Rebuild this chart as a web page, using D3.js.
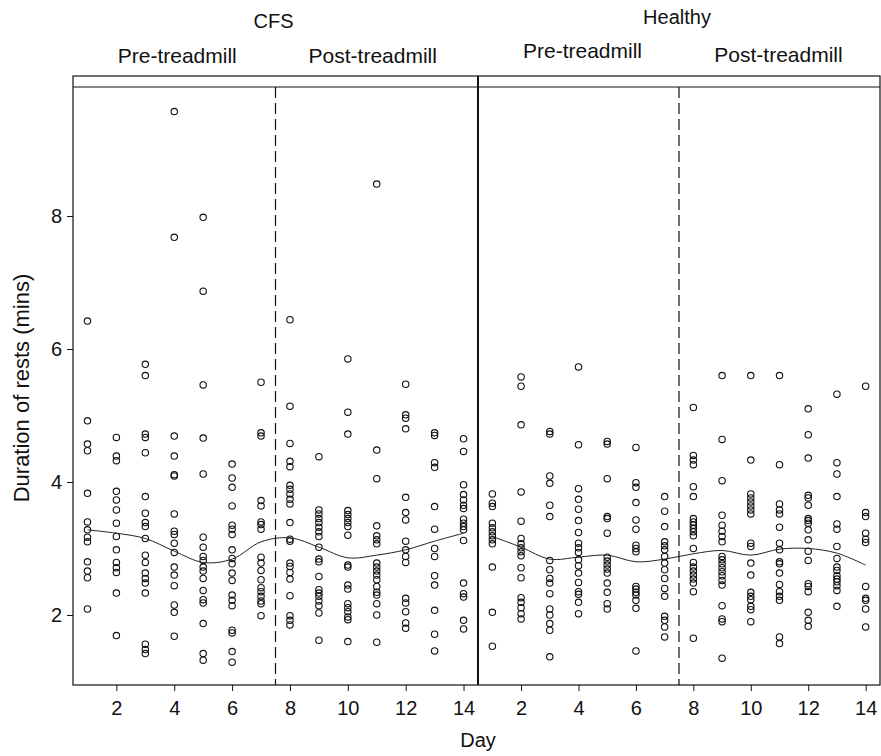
<!DOCTYPE html>
<html>
<head>
<meta charset="utf-8">
<script src="https://cdn.jsdelivr.net/npm/d3@7"></script>
<style>
  body { margin: 0; background: #fff; }
  svg { display: block; font-family: "Liberation Sans", Arial, sans-serif; }
</style>
</head>
<body>
<svg width="881" height="756"></svg>
<script>
// rests per day (mins), index 0 = day 1
const cfsRests = [
  [6.42, 4.92, 4.57, 4.47, 3.83, 3.40, 3.28, 3.17, 3.10, 2.80, 2.66, 2.56, 2.09],
  [4.67, 4.39, 4.32, 3.86, 3.73, 3.58, 3.38, 3.18, 2.98, 2.79, 2.71, 2.64, 2.33, 1.69],
  [5.77, 5.60, 4.72, 4.67, 4.44, 3.78, 3.53, 3.39, 3.33, 3.15, 2.90, 2.79, 2.63, 2.55, 2.48, 2.33, 1.56, 1.48, 1.42],
  [9.57, 7.68, 4.69, 4.39, 4.11, 4.09, 3.52, 3.26, 3.21, 3.08, 2.94, 2.72, 2.60, 2.44, 2.15, 2.04, 1.68],
  [7.98, 6.87, 5.46, 4.66, 4.12, 3.17, 3.02, 2.88, 2.82, 2.72, 2.66, 2.55, 2.37, 2.23, 2.18, 1.87, 1.42, 1.32],
  [4.27, 4.06, 3.92, 3.64, 3.35, 3.29, 3.21, 2.98, 2.85, 2.77, 2.63, 2.52, 2.30, 2.22, 2.14, 1.77, 1.73, 1.45, 1.29],
  [5.50, 4.74, 4.69, 3.72, 3.64, 3.40, 3.36, 3.29, 2.87, 2.78, 2.67, 2.53, 2.41, 2.35, 2.28, 2.21, 2.17, 1.99],
  [6.44, 5.14, 4.58, 4.31, 4.23, 3.95, 3.89, 3.82, 3.74, 3.67, 3.39, 3.14, 3.11, 2.78, 2.73, 2.64, 2.54, 2.29, 1.99, 1.92, 1.85],
  [4.38, 3.58, 3.52, 3.45, 3.39, 3.32, 3.25, 3.18, 3.02, 2.84, 2.80, 2.58, 2.38, 2.33, 2.28, 2.21, 2.14, 2.03, 1.62],
  [5.85, 5.05, 4.72, 3.57, 3.51, 3.45, 3.39, 3.33, 3.20, 2.75, 2.72, 2.45, 2.39, 2.17, 2.11, 2.05, 1.97, 1.93, 1.60],
  [8.48, 4.48, 4.05, 3.34, 3.19, 3.13, 3.07, 2.78, 2.72, 2.66, 2.60, 2.53, 2.43, 2.34, 2.30, 2.17, 2.00, 1.59],
  [5.47, 5.01, 4.96, 4.80, 3.77, 3.54, 3.43, 3.11, 2.98, 2.88, 2.79, 2.25, 2.18, 2.05, 1.88, 1.80],
  [4.74, 4.70, 4.29, 4.22, 3.63, 3.29, 3.00, 2.88, 2.59, 2.45, 2.07, 1.71, 1.46],
  [4.65, 4.46, 3.96, 3.81, 3.73, 3.65, 3.60, 3.44, 3.38, 3.33, 3.28, 3.12, 2.48, 2.32, 2.27, 1.92, 1.79]
];
const healthyRests = [
  [3.82, 3.68, 3.63, 3.38, 3.31, 3.25, 3.19, 3.13, 3.07, 2.72, 2.04, 1.53],
  [5.58, 5.44, 4.86, 3.85, 3.41, 3.15, 3.07, 3.01, 2.95, 2.89, 2.71, 2.56, 2.26, 2.19, 2.11, 2.02, 1.94],
  [4.76, 4.72, 4.09, 3.98, 3.65, 3.48, 2.82, 2.68, 2.55, 2.48, 2.32, 2.09, 2.00, 1.87, 1.77, 1.37],
  [5.73, 4.56, 3.90, 3.74, 3.59, 3.42, 3.24, 3.08, 3.01, 2.94, 2.83, 2.74, 2.63, 2.49, 2.35, 2.31, 2.19, 2.02],
  [4.61, 4.57, 4.05, 3.48, 3.45, 3.23, 2.87, 2.81, 2.75, 2.69, 2.63, 2.48, 2.34, 2.17, 2.09],
  [4.52, 3.99, 3.92, 3.69, 3.43, 3.29, 3.05, 3.00, 2.95, 2.43, 2.39, 2.34, 2.30, 2.22, 2.10, 1.46],
  [3.78, 3.56, 3.33, 3.10, 3.04, 2.98, 2.88, 2.78, 2.68, 2.55, 2.40, 2.28, 1.98, 1.92, 1.82, 1.67],
  [5.12, 4.40, 4.33, 4.26, 3.93, 3.78, 3.45, 3.40, 3.35, 3.30, 3.25, 3.19, 3.00, 2.79, 2.72, 2.66, 2.60, 2.54, 2.48, 2.35, 1.65],
  [5.60, 4.64, 4.02, 3.50, 3.35, 3.26, 3.18, 3.10, 2.88, 2.83, 2.77, 2.71, 2.65, 2.59, 2.52, 2.45, 2.14, 1.94, 1.90, 1.35],
  [5.60, 4.33, 3.82, 3.76, 3.70, 3.64, 3.58, 3.52, 3.08, 3.03, 2.78, 2.60, 2.34, 2.28, 2.23, 2.13, 2.08, 1.90],
  [5.60, 4.26, 3.67, 3.58, 3.52, 3.32, 3.08, 2.98, 2.80, 2.77, 2.63, 2.46, 2.35, 2.28, 2.22, 1.67, 1.57],
  [5.10, 4.71, 4.36, 3.80, 3.76, 3.65, 3.45, 3.42, 3.38, 3.28, 3.13, 2.96, 2.82, 2.47, 2.43, 2.35, 2.04, 1.92, 1.83],
  [5.32, 4.29, 4.12, 3.78, 3.37, 3.29, 3.03, 2.85, 2.72, 2.67, 2.59, 2.54, 2.50, 2.44, 2.37, 2.13],
  [5.44, 3.54, 3.48, 3.23, 3.14, 3.09, 2.43, 2.25, 2.22, 2.09, 1.82]
];
// smoothed curve, one value per day
const cfsSmooth = [3.28, 3.23, 3.15, 2.96, 2.79, 2.84, 3.10, 3.16, 3.02, 2.86, 2.90, 2.98, 3.11, 3.23];
const healthySmooth = [3.18, 3.02, 2.84, 2.87, 2.90, 2.80, 2.84, 2.92, 2.97, 2.90, 2.99, 3.00, 2.93, 2.75];

const days = d3.range(1, 15);
const xTicks = [2, 4, 6, 8, 10, 12, 14];
const yTicks = [2, 4, 6, 8];
const groups = ["CFS", "Healthy"];
const phases = ["Pre-treadmill", "Post-treadmill"];

const svg = d3.select("svg");
const plotTop = 87, plotBottom = 685, stripTop = 76;
const left = 73, mid = 478, right = 880;

const y = d3.scaleLinear().domain([0.947, 9.94]).range([plotBottom, plotTop]);

const panels = [
  {name: groups[0], rests: cfsRests, smooth: cfsSmooth, x: d3.scaleLinear().domain([0.5, 14.5]).range([left, mid]),
   titleY: 28, subY: [63, 63], subDx: [3, -4]},
  {name: groups[1], rests: healthyRests, smooth: healthySmooth, x: d3.scaleLinear().domain([0.5, 14.5]).range([mid, right]),
   titleY: 24, subY: [58, 62], subDx: [4, -1]}
];

const line = d3.line().curve(d3.curveCatmullRom.alpha(0.5));

panels.forEach((p, pi) => {
  const g = svg.append("g");
  const x = p.x;

  // dashed split between pre and post
  g.append("line")
      .attr("x1", x(7.5)).attr("x2", x(7.5))
      .attr("y1", plotTop).attr("y2", plotBottom)
      .attr("stroke", "#111").attr("stroke-width", 1.2)
      .attr("stroke-dasharray", "11,5");

  // points
  const pts = [];
  p.rests.forEach((vals, i) => vals.forEach(v => pts.push([days[i], v])));
  g.selectAll("circle")
    .data(pts)
    .join("circle")
      .attr("cx", d => x(d[0]))
      .attr("cy", d => y(d[1]))
      .attr("r", 3.2)
      .attr("fill", "none")
      .attr("stroke", "#111")
      .attr("stroke-width", 1.1);

  g.append("path")
      .attr("d", line(days.map((d, i) => [x(d), y(p.smooth[i])])))
      .attr("fill", "none")
      .attr("stroke", "#222")
      .attr("stroke-width", 1);

  // x axis
  const ax = g.append("g")
      .attr("transform", `translate(0,${plotBottom})`)
      .call(d3.axisBottom(x).tickValues(xTicks).tickSize(6).tickPadding(10).tickSizeOuter(0));
  ax.select(".domain").remove();
  ax.selectAll("line").attr("stroke", "#111");
  ax.selectAll("text").attr("font-size", 20).attr("fill", "#111");

  // strip titles
  const cx = (x.range()[0] + x.range()[1]) / 2;
  svg.append("text")
      .attr("x", cx - 2).attr("y", p.titleY)
      .attr("text-anchor", "middle").attr("font-size", 20).attr("fill", "#111")
      .text(p.name);
  phases.forEach((ph, j) => {
    const px = j === 0 ? (x(0.5) + x(7.5)) / 2 : (x(7.5) + x(14.5)) / 2;
    svg.append("text")
        .attr("x", px + p.subDx[j]).attr("y", p.subY[j])
        .attr("text-anchor", "middle").attr("font-size", 21).attr("fill", "#111")
        .text(ph);
  });
});

// frame: strip box, panel borders
svg.append("rect")
    .attr("x", left).attr("y", stripTop).attr("width", right - left).attr("height", plotBottom - stripTop)
    .attr("fill", "none").attr("stroke", "#111").attr("stroke-width", 1.2);
svg.append("line")
    .attr("x1", left).attr("x2", right).attr("y1", plotTop).attr("y2", plotTop)
    .attr("stroke", "#111").attr("stroke-width", 1.2);
svg.append("line")
    .attr("x1", mid).attr("x2", mid).attr("y1", stripTop).attr("y2", plotBottom)
    .attr("stroke", "#111").attr("stroke-width", 2);

// y axis
const ay = svg.append("g")
    .attr("transform", `translate(${left},0)`)
    .call(d3.axisLeft(y).tickValues(yTicks).tickSize(6).tickPadding(5));
ay.select(".domain").remove();
ay.selectAll("line").attr("stroke", "#111");
ay.selectAll("text").attr("font-size", 20).attr("fill", "#111");

svg.append("text")
    .attr("transform", `translate(29,388) rotate(-90)`)
    .attr("text-anchor", "middle").attr("font-size", 22).attr("fill", "#111")
    .text("Duration of rests (mins)");

svg.append("text")
    .attr("x", mid).attr("y", 747)
    .attr("text-anchor", "middle").attr("font-size", 20).attr("fill", "#111")
    .text("Day");
</script>
</body>
</html>
